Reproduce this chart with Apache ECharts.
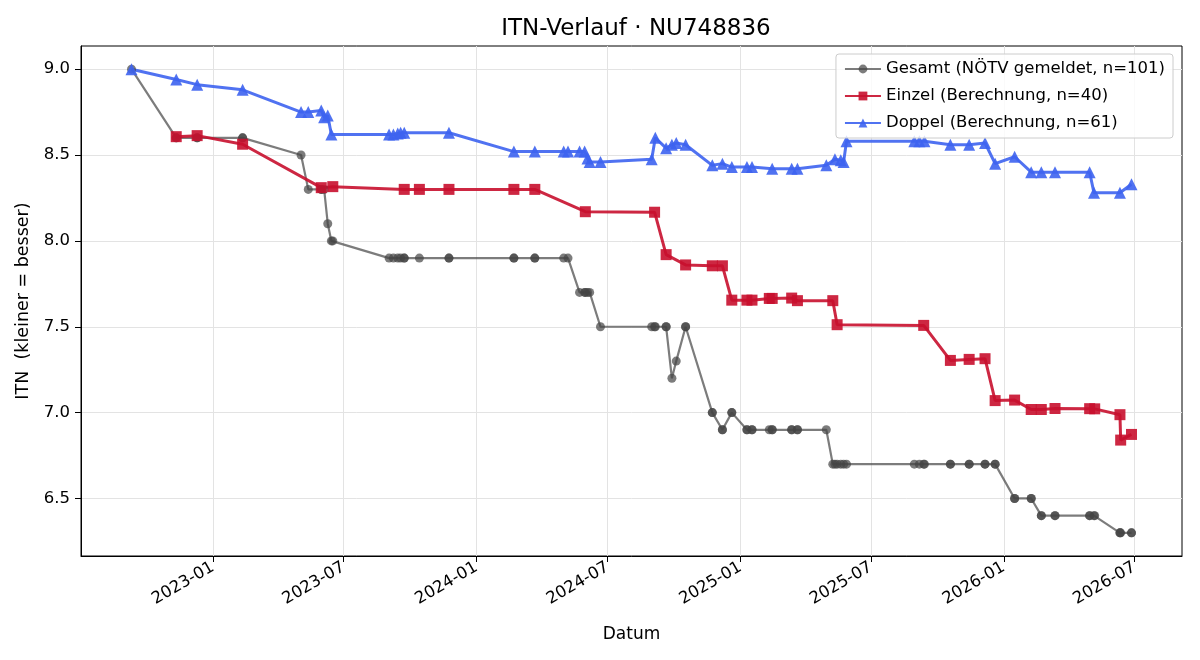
<!DOCTYPE html>
<html lang="de">

<head>
    <meta charset="UTF-8">
    <title>ITN-Verlauf</title>
    <style>
        html, body {
            margin: 0;
            padding: 0;
            background: #fff;
        }

        #chart {
            width: 1200px;
            height: 660px;
        }
    </style>
    <script src="https://cdn.jsdelivr.net/npm/echarts@6/dist/echarts.min.js"></script>
</head>

<body>
    <div id="chart"></div>

    <script>
        // Gesamt (NÖTV gemeldet) - gemeldeter ITN je Spiel
        const gesamtDates = [
            '2022-09-10', '2022-11-11', '2022-11-11', '2022-12-10', '2022-12-10', '2023-02-11', '2023-02-11',
            '2023-05-03', '2023-05-13', '2023-05-31', '2023-05-31', '2023-06-04', '2023-06-09', '2023-06-14',
            '2023-06-16', '2023-09-02', '2023-09-08', '2023-09-14', '2023-09-18', '2023-09-23', '2023-09-23',
            '2023-10-14', '2023-11-24', '2023-11-24', '2024-02-22', '2024-02-22', '2024-03-22', '2024-03-22',
            '2024-05-01', '2024-05-07', '2024-05-23', '2024-05-30', '2024-05-31', '2024-06-03', '2024-06-06',
            '2024-06-21', '2024-08-31', '2024-09-04', '2024-09-05', '2024-09-20', '2024-09-20', '2024-09-28',
            '2024-10-04', '2024-10-17', '2024-10-17', '2024-11-23', '2024-11-23', '2024-12-07', '2024-12-07',
            '2024-12-20', '2024-12-20', '2025-01-10', '2025-01-10', '2025-01-17', '2025-01-17', '2025-02-10',
            '2025-02-14', '2025-02-14', '2025-03-13', '2025-03-13', '2025-03-21', '2025-03-21', '2025-04-30',
            '2025-05-09', '2025-05-12', '2025-05-15', '2025-05-20', '2025-05-24', '2025-05-28', '2025-08-30',
            '2025-09-06', '2025-09-12', '2025-09-13', '2025-10-19', '2025-10-19', '2025-11-14', '2025-11-14',
            '2025-12-06', '2025-12-06', '2025-12-20', '2025-12-20', '2026-01-16', '2026-01-16', '2026-02-08',
            '2026-02-08', '2026-02-22', '2026-02-22', '2026-03-13', '2026-03-13', '2026-04-30', '2026-04-30',
            '2026-05-06', '2026-05-07', '2026-06-11', '2026-06-11', '2026-06-12', '2026-06-27', '2026-06-27'
        ];
        const gesamtValues = [
            9.0, 8.6, 8.6, 8.6, 8.6, 8.6, 8.6,
            8.5, 8.3, 8.3, 8.3, 8.3, 8.1, 8.0,
            8.0, 7.9, 7.9, 7.9, 7.9, 7.9, 7.9,
            7.9, 7.9, 7.9, 7.9, 7.9, 7.9, 7.9,
            7.9, 7.9, 7.7, 7.7, 7.7, 7.7, 7.7,
            7.5, 7.5, 7.5, 7.5, 7.5, 7.5, 7.2,
            7.3, 7.5, 7.5, 7.0, 7.0, 6.9, 6.9,
            7.0, 7.0, 6.9, 6.9, 6.9, 6.9, 6.9,
            6.9, 6.9, 6.9, 6.9, 6.9, 6.9, 6.9,
            6.7, 6.7, 6.7, 6.7, 6.7, 6.7, 6.7,
            6.7, 6.7, 6.7, 6.7, 6.7, 6.7, 6.7,
            6.7, 6.7, 6.7, 6.7, 6.5, 6.5, 6.5,
            6.5, 6.4, 6.4, 6.4, 6.4, 6.4, 6.4,
            6.4, 6.4, 6.3, 6.3, 6.3, 6.3, 6.3
        ];

        // Einzel (Berechnung)
        const einzelDates = [
            '2022-11-11', '2022-12-10', '2023-02-11', '2023-05-31', '2023-06-16', '2023-09-23', '2023-10-14',
            '2023-11-24', '2024-02-22', '2024-03-22', '2024-05-31', '2024-09-04', '2024-09-20', '2024-10-17',
            '2024-11-23', '2024-12-07', '2024-12-20', '2025-01-10', '2025-01-17', '2025-02-10', '2025-02-14',
            '2025-03-13', '2025-03-21', '2025-05-09', '2025-05-15', '2025-09-12', '2025-10-19', '2025-11-14',
            '2025-12-06', '2025-12-20', '2026-01-16', '2026-02-08', '2026-02-22', '2026-03-13', '2026-04-30',
            '2026-05-07', '2026-06-11', '2026-06-12', '2026-06-27'
        ];
        const einzelValues = [
            8.607, 8.613, 8.563, 8.31, 8.316, 8.30, 8.30,
            8.30, 8.30, 8.30, 8.17, 8.167, 7.92, 7.86,
            7.855, 7.855, 7.655, 7.655, 7.655, 7.665, 7.665,
            7.667, 7.652, 7.652, 7.512, 7.508, 7.304, 7.31,
            7.314, 7.07, 7.073, 7.018, 7.018, 7.024, 7.023,
            7.022, 6.988, 6.84, 6.873
        ];

        // Doppel (Berechnung)
        const doppelDates = [
            '2022-09-10', '2022-11-11', '2022-12-10', '2023-02-11', '2023-05-03', '2023-05-13', '2023-05-31',
            '2023-06-04', '2023-06-09', '2023-06-14', '2023-09-02', '2023-09-08', '2023-09-14', '2023-09-18',
            '2023-09-23', '2023-11-24', '2024-02-22', '2024-03-22', '2024-05-01', '2024-05-07', '2024-05-23',
            '2024-05-30', '2024-06-03', '2024-06-06', '2024-06-21', '2024-08-31', '2024-09-05', '2024-09-20',
            '2024-09-28', '2024-10-04', '2024-10-17', '2024-11-23', '2024-12-07', '2024-12-20', '2025-01-10',
            '2025-01-17', '2025-02-14', '2025-03-13', '2025-03-21', '2025-04-30', '2025-05-12', '2025-05-20',
            '2025-05-24', '2025-05-28', '2025-08-30', '2025-09-06', '2025-09-13', '2025-10-19', '2025-11-14',
            '2025-12-06', '2025-12-20', '2026-01-16', '2026-02-08', '2026-02-22', '2026-03-13', '2026-04-30',
            '2026-05-06', '2026-06-11', '2026-06-27'
        ];
        const doppelValues = [
            9.00, 8.94, 8.91, 8.88, 8.75, 8.75, 8.76,
            8.72, 8.73, 8.62, 8.62, 8.62, 8.625, 8.63,
            8.63, 8.63, 8.52, 8.52, 8.52, 8.52, 8.52,
            8.52, 8.48, 8.46, 8.46, 8.475, 8.60, 8.54,
            8.56, 8.57, 8.56, 8.44, 8.45, 8.43, 8.43,
            8.43, 8.42, 8.42, 8.42, 8.44, 8.475, 8.47,
            8.46, 8.58, 8.58, 8.58, 8.58, 8.56, 8.56,
            8.57, 8.45, 8.49, 8.40, 8.40, 8.40, 8.40,
            8.28, 8.28, 8.33
        ];

        // Achsen
        const xTickDates = ['2023-01-01', '2023-07-01', '2024-01-01', '2024-07-01',
            '2025-01-01', '2025-07-01', '2026-01-01', '2026-07-01'];
        const yTicks = [6.5, 7.0, 7.5, 8.0, 8.5, 9.0];

        // Datum -> Zeitstempel (UTC, damit die Achse tagesgenau bleibt)
        const toTime = d => Date.parse(d + 'T00:00:00Z');
        const zip = (dates, values) => dates.map((d, i) => [toTime(d), values[i]]);
        const xTicks = xTickDates.map(toTime);

        const FONT = 'DejaVu Sans';

        var myChart = echarts.init(document.getElementById('chart'), null, { renderer: 'canvas' });

        var option = {
            animation: false,
            backgroundColor: '#fff',
            textStyle: { fontFamily: FONT },
            title: {
                text: 'ITN-Verlauf · NU748836',
                left: 631,
                textAlign: 'center',
                top: 13,
                textStyle: { fontFamily: FONT, fontSize: 23, fontWeight: 'normal', color: '#000' }
            },
            grid: {
                left: 81,
                right: 18,
                top: 46,
                bottom: 104,
                show: true,
                borderColor: '#000',
                borderWidth: 1
            },
            legend: {
                orient: 'vertical',
                right: 27,
                top: 54,
                itemWidth: 36,
                itemHeight: 11,
                itemGap: 9,
                padding: [6, 8, 6, 8],
                backgroundColor: 'rgba(255,255,255,0.8)',
                borderColor: '#cccccc',
                borderWidth: 1,
                borderRadius: 3,
                textStyle: { fontFamily: FONT, fontSize: 16.5, color: '#000', lineHeight: 18 }
            },
            // Zeitachse als Zahlenachse mit Zeitstempeln, Beschriftung halbjaehrlich
            xAxis: {
                type: 'value',
                name: 'Datum',
                nameLocation: 'middle',
                nameGap: 70,
                nameTextStyle: { fontFamily: FONT, fontSize: 17, color: '#000' },
                min: toTime('2022-07-02'),
                max: toTime('2026-09-05'),
                axisLine: { show: true, onZero: false, lineStyle: { color: '#000', width: 1 } },
                axisTick: { show: true, length: 6, lineStyle: { color: '#000' }, customValues: xTicks },
                axisLabel: {
                    customValues: xTicks,
                    rotate: 30,
                    margin: 10,
                    fontFamily: FONT,
                    fontSize: 16.5,
                    color: '#000',
                    formatter: function (v) {
                        const d = new Date(v);
                        return d.getUTCFullYear() + '-' + String(d.getUTCMonth() + 1).padStart(2, '0');
                    }
                },
                splitLine: { show: true, lineStyle: { color: '#e3e3e3', width: 1 } }
            },
            yAxis: {
                type: 'value',
                name: 'ITN  (kleiner = besser)',
                nameLocation: 'middle',
                nameGap: 47,
                nameTextStyle: { fontFamily: FONT, fontSize: 17.5, color: '#000' },
                min: 6.165,
                max: 9.135,
                axisLine: { show: true, onZero: false, lineStyle: { color: '#000', width: 1 } },
                axisTick: { show: true, length: 6, lineStyle: { color: '#000' }, customValues: yTicks },
                axisLabel: {
                    customValues: yTicks,
                    margin: 11,
                    fontFamily: FONT,
                    fontSize: 16.5,
                    color: '#000',
                    formatter: v => v.toFixed(1)
                },
                splitLine: { show: true, lineStyle: { color: '#e3e3e3', width: 1 } }
            },
            series: [
                {
                    name: 'Gesamt (NÖTV gemeldet, n=101)',
                    type: 'line',
                    data: zip(gesamtDates, gesamtValues),
                    symbol: 'circle',
                    symbolSize: 9,
                    color: '#444444',
                    lineStyle: { color: '#444444', width: 2.2, opacity: 0.7 },
                    itemStyle: { color: '#444444', opacity: 0.7 }
                },
                {
                    name: 'Einzel (Berechnung, n=40)',
                    type: 'line',
                    data: zip(einzelDates, einzelValues),
                    symbol: 'rect',
                    symbolSize: 11,
                    color: '#c8102e',
                    lineStyle: { color: '#c8102e', width: 3, opacity: 0.9 },
                    itemStyle: { color: '#c8102e', opacity: 0.9 }
                },
                {
                    name: 'Doppel (Berechnung, n=61)',
                    type: 'line',
                    data: zip(doppelDates, doppelValues),
                    symbol: 'triangle',
                    symbolSize: 12,
                    color: '#3d63f0',
                    lineStyle: { color: '#3d63f0', width: 3, opacity: 0.9 },
                    itemStyle: { color: '#3d63f0', opacity: 0.9 }
                }
            ]
        };

        myChart.setOption(option);
    </script>
</body>

</html>
